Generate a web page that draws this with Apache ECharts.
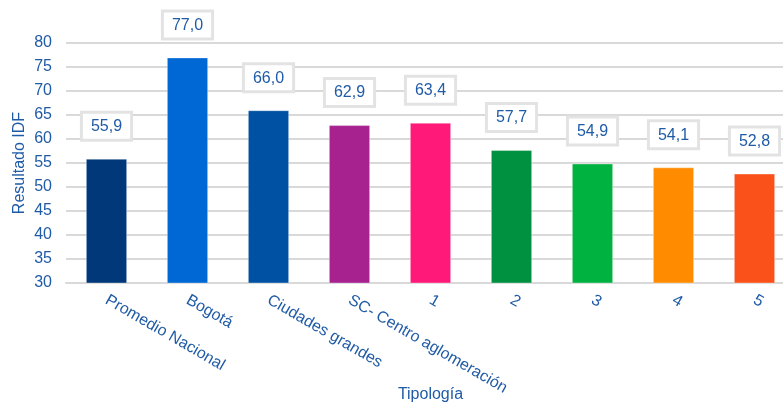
<!DOCTYPE html>
<html>
<head>
<meta charset="utf-8">
<script src="https://cdn.jsdelivr.net/npm/echarts@6/dist/echarts.min.js"></script>
<style>
  html, body { margin: 0; padding: 0; background: #ffffff; }
  #chart { width: 783px; height: 403px; }
</style>
</head>
<body>
<div id="chart"></div>
<script>
// Resultado IDF por tipología
const categories = ['Promedio Nacional', 'Bogotá', 'Ciudades grandes', 'SC- Centro aglomeración', '1', '2', '3', '4', '5'];
const values = [55.9, 77.0, 66.0, 62.9, 63.4, 57.7, 54.9, 54.1, 52.8];
const barColors = ['#00387a', '#0068d4', '#0051a3', '#a8228f', '#ff1a7a', '#009140', '#00b240', '#ff8c00', '#fa5019'];
const yTicks = [30, 35, 40, 45, 50, 55, 60, 65, 70, 75, 80];

const textColor = '#1f5ba6';
const fontFamily = '"Liberation Sans", Arial, sans-serif';

const chart = echarts.init(document.getElementById('chart'), null, { renderer: 'canvas' });

chart.setOption({
  animation: false,
  backgroundColor: '#ffffff',
  textStyle: { fontFamily: fontFamily },
  grid: { left: 66, top: 43, width: 729, height: 240, containLabel: false, outerBoundsMode: 'none' },
  xAxis: {
    type: 'category',
    data: categories,
    name: 'Tipología',
    nameLocation: 'middle',
    nameMoveOverlap: false,
    nameGap: 112,
    nameTextStyle: { color: textColor, fontSize: 16, fontFamily: fontFamily, verticalAlign: 'middle' },
    axisLine: { lineStyle: { color: '#d9d9d9', width: 2 } },
    axisTick: { show: false },
    axisLabel: {
      rotate: -30,
      margin: 16,
      interval: 0,
      color: textColor,
      fontSize: 16,
      fontFamily: fontFamily
    }
  },
  yAxis: {
    type: 'value',
    min: yTicks[0],
    max: yTicks[yTicks.length - 1],
    interval: 5,
    name: 'Resultado IDF',
    nameLocation: 'middle',
    nameMoveOverlap: false,
    nameGap: 38,
    nameTextStyle: { color: textColor, fontSize: 16, fontFamily: fontFamily },
    axisLine: { show: false },
    axisTick: { show: false },
    axisLabel: { color: textColor, fontSize: 16, margin: 14, fontFamily: fontFamily },
    splitLine: { lineStyle: { color: '#d9d9d9', width: 2 } }
  },
  series: [{
    type: 'bar',
    barCategoryGap: '49%',
    data: values.map((v, i) => ({
      value: v,
      itemStyle: { color: barColors[i], borderColor: 'rgba(255,255,255,0.35)', borderWidth: 1 }
    })),
    label: {
      show: true,
      position: 'top',
      distance: 20,
      formatter: p => p.value.toFixed(1).replace('.', ','),
      color: textColor,
      fontSize: 16,
      fontFamily: fontFamily,
      backgroundColor: '#ffffff',
      borderColor: '#e3e3e3',
      borderWidth: 3,
      padding: [5, 8, 4, 8]
    }
  }]
});
</script>
</body>
</html>
